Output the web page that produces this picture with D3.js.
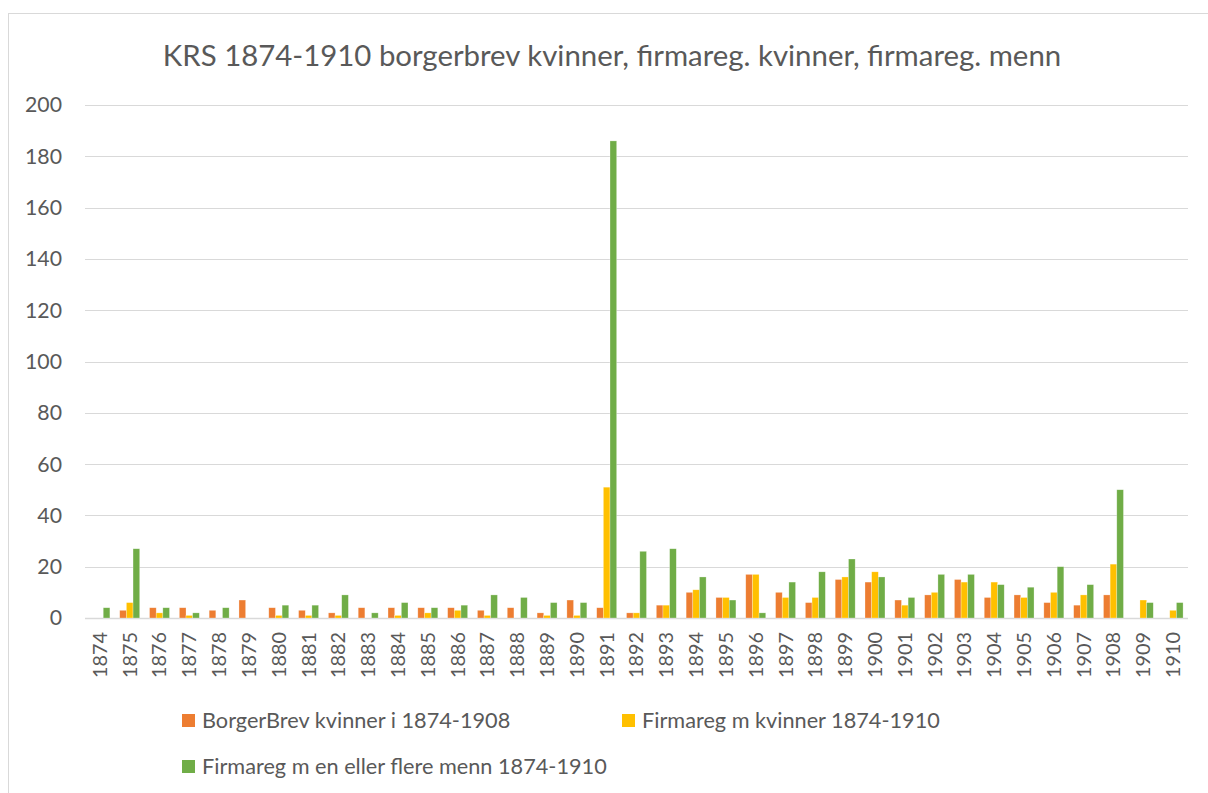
<!DOCTYPE html>
<html>
<head>
<meta charset="utf-8">
<script src="https://cdn.jsdelivr.net/npm/d3@7"></script>
<style>
  html, body { margin: 0; padding: 0; background: #fff; }
  svg { display: block; font-family: Lato, "Open Sans", sans-serif; }
</style>
</head>
<body>
<svg id="chart" width="1208" height="793"></svg>
<script>
const years = ["1874","1875","1876","1877","1878","1879","1880","1881","1882","1883","1884","1885","1886","1887","1888","1889","1890","1891","1892","1893","1894","1895","1896","1897","1898","1899","1900","1901","1902","1903","1904","1905","1906","1907","1908","1909","1910"];
const borgerbrev = [0,3,4,4,3,7,4,3,2,4,4,4,4,3,4,2,7,4,2,5,10,8,17,10,6,15,14,7,9,15,8,9,6,5,9,0,0];
const firmaKvinner = [0,6,2,1,0,0,1,1,1,0,1,2,3,1,0,1,1,51,2,5,11,8,17,8,8,16,18,5,10,14,14,8,10,9,21,7,3];
const firmaMenn = [4,27,4,2,4,0,5,5,9,2,6,4,5,9,8,6,6,186,26,27,16,7,2,14,18,23,16,8,17,17,13,12,20,13,50,6,6];
const seriesNames = ["BorgerBrev kvinner i 1874-1908","Firmareg m kvinner 1874-1910","Firmareg m en eller flere menn 1874-1910"];
const seriesColors = ["#ED7D31","#FFC000","#70AD47"];
const yTicks = [0,20,40,60,80,100,120,140,160,180,200];
const title = "KRS 1874-1910 borgerbrev kvinner, firmareg. kvinner, firmareg. menn";

const svg = d3.select("#chart");
const textColor = "#595959";

function fitFont(sel, target, start) {
  sel.style("font-size", start + "px");
  const w = sel.node().getComputedTextLength();
  const fs = start * target / w;
  sel.style("font-size", fs + "px");
  return fs;
}

// frame
svg.append("rect").attr("x", 8.5).attr("y", 13.5).attr("width", 1230).attr("height", 800)
  .attr("fill", "none").attr("stroke", "#d9d9d9").attr("stroke-width", 1);

const x = d3.scaleBand().domain(years).range([85, 1188]).paddingInner(0.33).paddingOuter(0.165);
const x1 = d3.scaleBand().domain([0,1,2]).range([0, x.bandwidth()]);
const y = d3.scaleLinear().domain([0, 200]).range([618, 105]);

// grid
svg.append("g").selectAll("line").data(yTicks).join("line")
  .attr("x1", 85).attr("x2", 1188)
  .attr("y1", d => Math.round(y(d)) + 0.5).attr("y2", d => Math.round(y(d)) + 0.5)
  .attr("stroke", "#d9d9d9").attr("stroke-width", d => d === 0 ? 1.5 : 1);

// y labels
const yl = svg.append("g").selectAll("text").data(yTicks).join("text")
  .attr("x", 62).attr("y", d => y(d)).attr("dy", "0.35em")
  .attr("text-anchor", "end").attr("fill", textColor)
  .text(d => d);
const yfs = fitFont(yl.filter(d => d === 200), 37, 20);
yl.style("font-size", yfs + "px");

// bars
const seriesData = [borgerbrev, firmaKvinner, firmaMenn];
const groups = svg.append("g").selectAll("g").data(years).join("g")
  .attr("transform", d => `translate(${x(d)},0)`);
groups.selectAll("rect").data((d, i) => seriesData.map((s, k) => ({k, v: s[i]})))
  .join("rect")
  .attr("x", d => x1(d.k))
  .attr("width", x1.bandwidth())
  .attr("y", d => y(d.v))
  .attr("height", d => y(0) - y(d.v))
  .attr("fill", d => seriesColors[d.k])
  .attr("stroke", "#ffffff").attr("stroke-opacity", 0.45).attr("stroke-width", 0.6)
  .style("display", d => d.v > 0 ? null : "none");

// x labels
const xl = svg.append("g").selectAll("text").data(years).join("text")
  .attr("transform", d => `translate(${x(d) + x.bandwidth() / 2},632) rotate(-90)`)
  .attr("dy", "0.35em").attr("text-anchor", "end").attr("fill", textColor)
  .text(d => d);
const xfs = fitFont(xl.filter(d => d === "1874"), 46, 20);
xl.style("font-size", xfs + "px");

// title
const t = svg.append("text").attr("x", 612).attr("y", 66).attr("text-anchor", "middle")
  .attr("fill", textColor).text(title);
fitFont(t, 899, 26);

// legend
const legendItems = [
  {x: 182, y: 714, i: 0},
  {x: 622, y: 714, i: 1},
  {x: 182, y: 760, i: 2}
];
const lg = svg.append("g").selectAll("g").data(legendItems).join("g")
  .attr("transform", d => `translate(${d.x},${d.y})`);
lg.append("rect").attr("width", 13).attr("height", 13).attr("fill", d => seriesColors[d.i]);
const lt = lg.append("text").attr("x", 20).attr("y", 6.5).attr("dy", "0.35em")
  .attr("fill", textColor).text(d => seriesNames[d.i]);
const lfs = fitFont(lt.filter(d => d.i === 1), 298, 20);
lt.style("font-size", lfs + "px");
</script>
</body>
</html>
